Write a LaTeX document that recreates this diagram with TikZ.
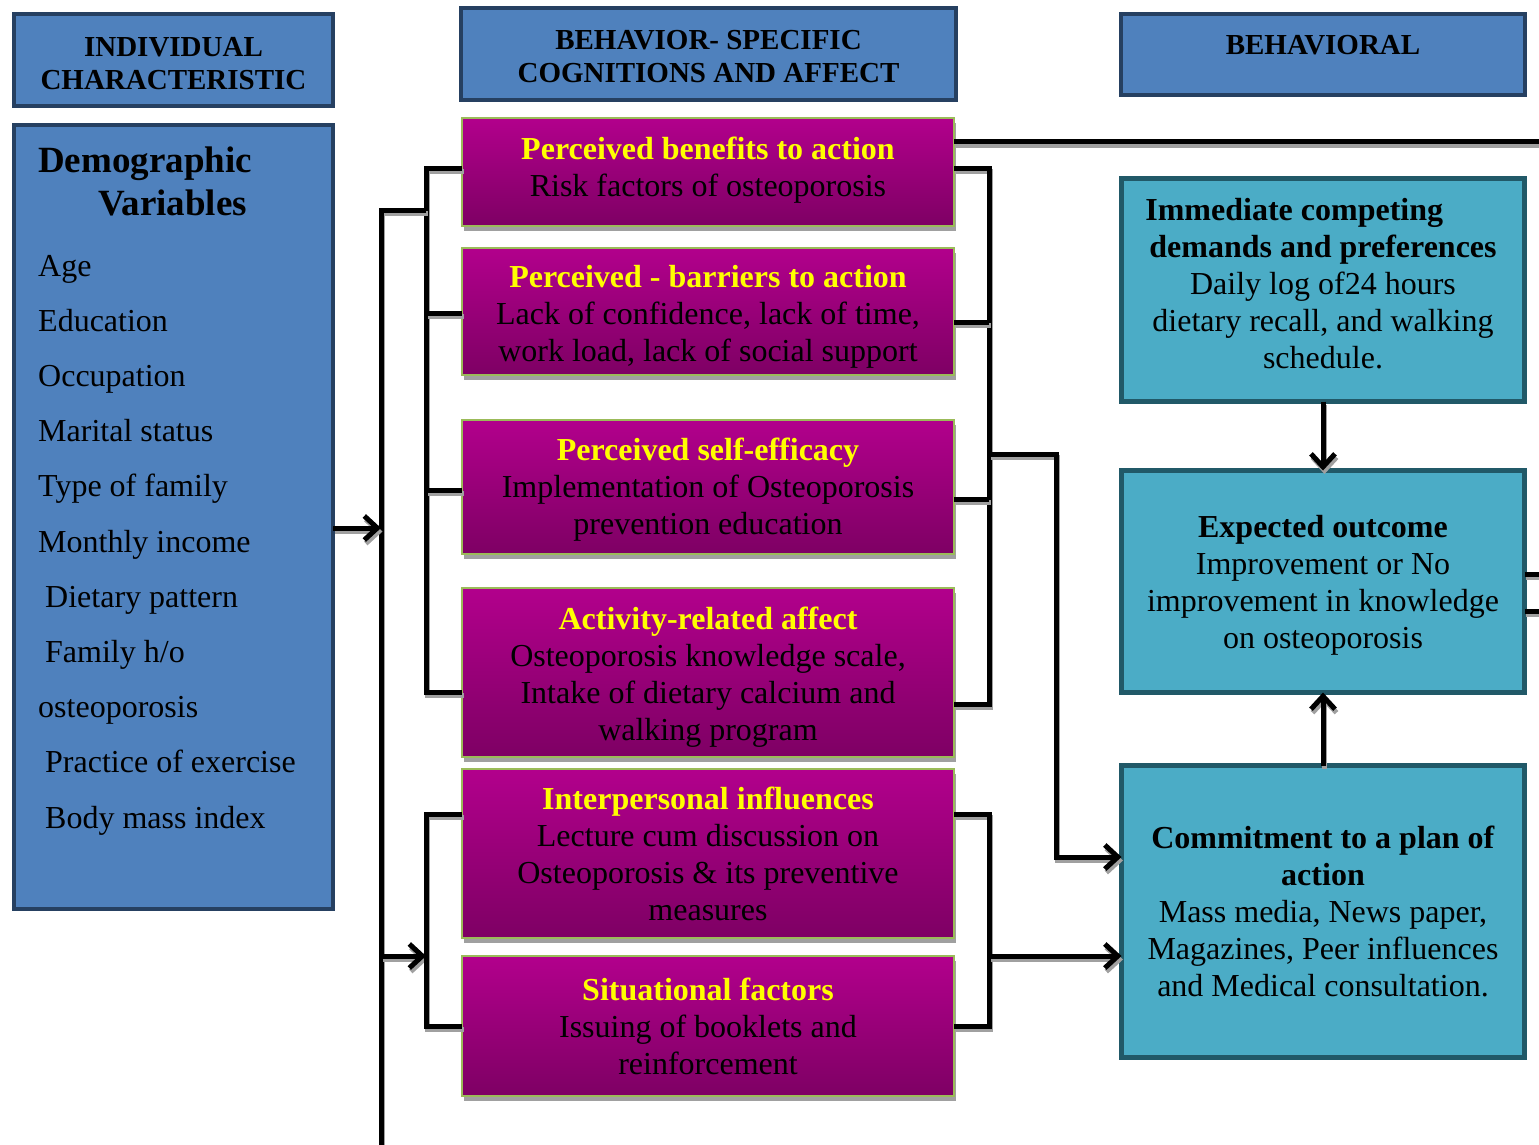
\documentclass[tikz,border=0pt]{standalone}
\usepackage{fontspec}
\setmainfont{Liberation Serif}
\usetikzlibrary{arrows.meta,shadows}
\definecolor{hdrfill}{RGB}{79,129,189}
\definecolor{hdrline}{RGB}{38,64,97}
\definecolor{magtop}{RGB}{178,0,140}
\definecolor{magbot}{RGB}{126,0,100}
\definecolor{magline}{RGB}{155,187,89}
\definecolor{tealfill}{RGB}{75,172,198}
\definecolor{tealline}{RGB}{33,89,104}
\definecolor{ttl}{RGB}{255,255,0}
\definecolor{shadowgray}{RGB}{160,160,160}
\newcommand{\dn}[1]{\rule[-#1]{0pt}{1pt}}
\newcommand{\upr}[1]{\rule{0pt}{#1}}
\begin{document}
\begin{tikzpicture}[x=1pt,y=-1pt,
 box/.style={anchor=north west, inner sep=0pt, outer sep=0pt, align=center, font=\fontsize{32pt}{37pt}\selectfont},
 hdr/.style={box, fill=hdrfill, draw=hdrline, line width=4pt, font=\fontsize{29pt}{33pt}\selectfont\bfseries},
 mag/.style={box, top color=magtop, bottom color=magbot, draw=magline, line width=2pt, minimum width=492pt,
   drop shadow={shadow xshift=1.5pt, shadow yshift=-5pt, fill=shadowgray, opacity=1}},
 tealbox/.style={box, fill=tealfill, draw=tealline, line width=5pt, minimum width=403pt},
 listtxt/.style={anchor=base west, inner sep=0pt, font=\fontsize{32pt}{37pt}\selectfont},
 demotitle/.style={anchor=base west, inner sep=0pt, font=\fontsize{37pt}{43pt}\selectfont\bfseries},
 conn/.style={line width=5pt, preaction={draw=shadowgray, line width=5pt, transform canvas={xshift=1.5pt,yshift=-3.5pt}}},
 arr/.style={conn, -{Straight Barb[length=13pt,width=24pt]}},
 ]
\useasboundingbox (0,0) rectangle (1539,1145);

% headers
\node[hdr, minimum width=319pt, minimum height=92pt] (h1) at (14,14) {\upr{26pt}INDIVIDUAL\\CHARACTERISTIC};
\node[hdr, minimum width=495pt, minimum height=92pt] (h2) at (461,8) {\upr{25pt}BEHAVIOR- SPECIFIC\\COGNITIONS AND AFFECT};
\node[hdr, minimum width=404pt, minimum height=81pt] (h3) at (1121,14) {\raisebox{9pt}[\height][\depth]{BEHAVIORAL}};

% demographic box
\node[hdr, minimum width=319pt, minimum height=784pt] (demo) at (14,125) {};
\node[demotitle] (dt1) at (38,172) {Demographic};
\node[demotitle] (dt2) at (98,215) {Variables};
\node[listtxt] (d1) at (38,276) {Age};
\node[listtxt] (d2) at (38,331.2) {Education};
\node[listtxt] (d3) at (38,386.4) {Occupation};
\node[listtxt] (d4) at (38,441.6) {Marital status};
\node[listtxt] (d5) at (38,496.8) {Type of family};
\node[listtxt] (d6) at (38,552) {Monthly income};
\node[listtxt] (d7) at (45,607.2) {Dietary pattern};
\node[listtxt] (d8) at (45,662.4) {Family h/o};
\node[listtxt] (d9) at (38,717.6) {osteoporosis};
\node[listtxt] (d10) at (45,772.8) {Practice of exercise};
\node[listtxt] (d11) at (45,828) {Body mass index};

% magenta boxes
\node[mag, minimum height=108pt] (b1) at (462,118)
  {\textcolor{ttl}{\bfseries Perceived benefits to action}\\Risk factors of osteoporosis\dn{10pt}};
\node[mag, minimum height=127pt] (b2) at (462,248)
  {\upr{32pt}\textcolor{ttl}{\bfseries Perceived - barriers to action}\\Lack of confidence, lack of time,\\work load, lack of social support};
\node[mag, minimum height=134pt] (b3) at (462,420)
  {\upr{28pt}\textcolor{ttl}{\bfseries Perceived self-efficacy}\\Implementation of Osteoporosis\\prevention education};
\node[mag, minimum height=169pt] (b4) at (462,588)
  {\upr{32pt}\textcolor{ttl}{\bfseries Activity-related affect}\\Osteoporosis knowledge scale,\\Intake of dietary calcium and\\walking program};
\node[mag, minimum height=169pt] (b5) at (462,769)
  {\upr{24pt}\textcolor{ttl}{\bfseries Interpersonal influences}\\Lecture cum discussion on\\Osteoporosis \& its preventive\\measures};
\node[mag, minimum height=140pt] (b6) at (462,956)
  {\textcolor{ttl}{\bfseries Situational factors}\\Issuing of booklets and\\reinforcement};

% teal boxes
\node[tealbox, minimum height=223pt] (t1) at (1121.5,178.5)
  {\textbf{\rlap{Immediate competing}\phantom{demands and preferences}}\hspace*{8pt}\\\textbf{demands and preferences}\hspace*{8pt}\\Daily log of24 hours\\dietary recall, and walking\\schedule.\dn{13pt}};
\node[tealbox, minimum height=222pt] (t2) at (1121.5,470.5)
  {\upr{30pt}\textbf{Expected outcome}\\Improvement or No\\improvement in knowledge\\on osteoporosis};
\node[tealbox, minimum height=292pt] (t3) at (1121.5,765.5)
  {\textbf{Commitment to a plan of}\\\textbf{action}\\Mass media, News paper,\\Magazines, Peer influences\\and Medical consultation.};

% connectors
\coordinate (topend) at (1539,142);
\coordinate (stubA) at (1539,574);
\coordinate (stubB) at (1539,611);
\coordinate (outerTop) at (381,210);
\coordinate (outerBot) at (381,1145);

\draw[conn] (b1.east |- 0,142) -- (topend);
% left bracket A
\draw[conn] (b1.west |- 0,168) -- (426,168) -- (426,692) -- (b4.west |- 0,692);
\draw[conn] (426,313) -- (b2.west |- 0,313);
\draw[conn] (426,490) -- (b3.west |- 0,490);
% outer line
\draw[conn] (426,210) -- (outerTop) -- (outerBot);
\draw[arr] (demo.east |- 0,528) -- (outerTop |- 0,528);
\draw[arr] (outerTop |- 0,956) -- (426,956);
% left bracket B
\draw[conn] (b5.west |- 0,814) -- (426,814) -- (426,1026) -- (b6.west |- 0,1026);
% right bracket A
\draw[conn] (b1.east |- 0,168) -- (989,168) -- (989,704) -- (b4.east |- 0,704);
\draw[conn] (b2.east |- 0,322) -- (989,322);
\draw[conn] (b3.east |- 0,499) -- (989,499);
\draw[arr] (989,454) -- (1056,454) -- (1056,857) -- (t3.west |- 0,857);
% right bracket B
\draw[conn] (b5.east |- 0,814) -- (989,814) -- (989,1026) -- (b6.east |- 0,1026);
\draw[arr] (989,956) -- (t3.west |- 0,956);
% teal arrows
\draw[arr] (t1.south) -- (t2.north);
\draw[arr] (t3.north) -- (t2.south);
\draw[conn] (t2.east |- 0,574) -- (stubA);
\draw[conn] (t2.east |- 0,611) -- (stubB);
\end{tikzpicture}
\end{document}
